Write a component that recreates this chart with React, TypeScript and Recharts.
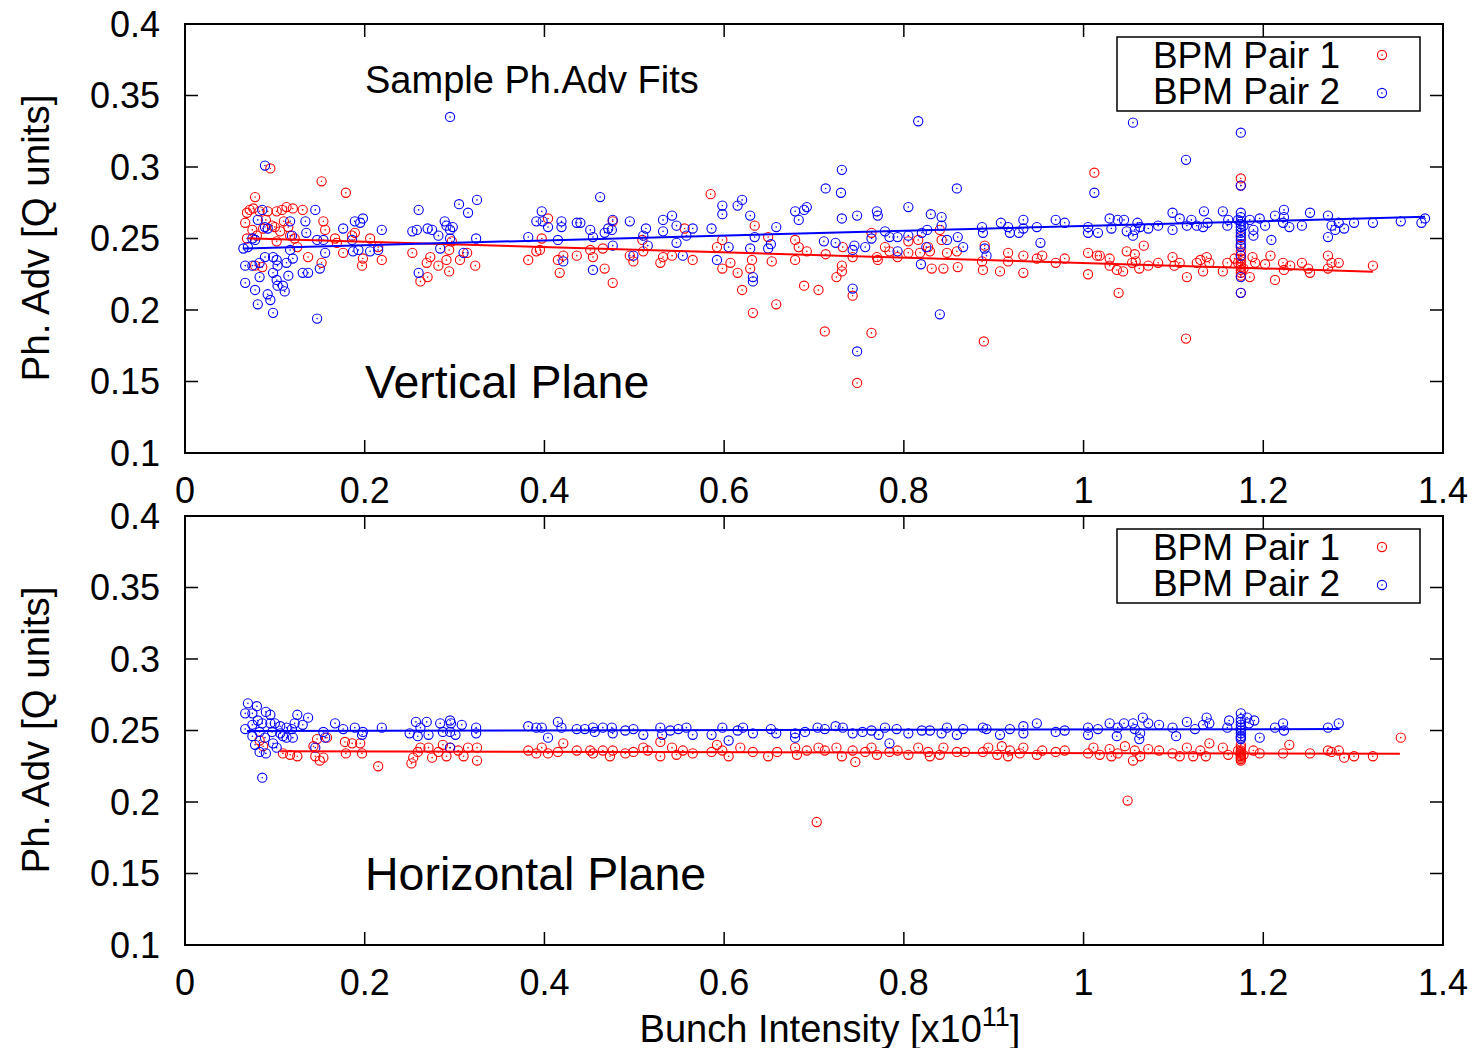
import React from "react";
import { ScatterChart, Scatter, XAxis, YAxis, ReferenceLine, ReferenceArea } from "recharts";

const FONT = '"Liberation Sans", Arial, Helvetica, sans-serif';
const RED = "#ff0000";
const BLUE = "#0000ff";
const W = 1466;

const xTicks = [0, 0.2, 0.4, 0.6, 0.8, 1, 1.2, 1.4];
const yTicks = [0.1, 0.15, 0.2, 0.25, 0.3, 0.35, 0.4];

// Vertical plane, BPM Pair 1 (red)
const v1: [number, number][] = [
	[0.095, 0.299], [0.152, 0.29], [0.179, 0.282], [0.078, 0.279], [0.585, 0.281], [1.012, 0.296], [1.175, 0.292], [1.175, 0.287],
	[0.712, 0.185], [0.764, 0.184], [0.748, 0.149], [0.889, 0.178], [1.114, 0.18], [0.632, 0.198], [0.658, 0.204], [0.62, 0.214],
	[0.705, 0.214], [0.689, 0.217], [1.039, 0.212], [0.476, 0.219], [0.725, 0.223], [0.731, 0.227], [0.731, 0.231], [0.743, 0.21],
	[0.067, 0.261], [0.069, 0.268], [0.072, 0.27], [0.076, 0.271], [0.083, 0.269], [0.092, 0.269], [0.102, 0.269], [0.108, 0.27],
	[0.113, 0.272], [0.12, 0.271], [0.131, 0.27], [0.075, 0.256], [0.087, 0.257], [0.097, 0.259], [0.106, 0.255], [0.115, 0.258],
	[0.117, 0.252], [0.069, 0.25], [0.08, 0.252], [0.102, 0.248], [0.122, 0.25], [0.125, 0.244], [0.086, 0.23], [0.078, 0.231],
	[0.137, 0.237], [0.152, 0.233], [0.156, 0.256], [0.154, 0.262], [0.167, 0.25], [0.169, 0.247], [0.176, 0.24], [0.186, 0.252],
	[0.189, 0.254], [0.197, 0.231], [0.198, 0.236], [0.206, 0.25], [0.215, 0.244], [0.219, 0.235], [0.253, 0.24], [0.262, 0.22],
	[0.27, 0.223], [0.269, 0.233], [0.273, 0.237], [0.282, 0.231], [0.291, 0.235], [0.294, 0.227], [0.294, 0.242], [0.297, 0.248],
	[0.306, 0.235], [0.314, 0.24], [0.323, 0.231], [0.382, 0.235], [0.391, 0.241], [0.397, 0.25], [0.404, 0.264], [0.395, 0.242],
	[0.415, 0.235], [0.417, 0.226], [0.421, 0.238], [0.436, 0.238], [0.451, 0.242], [0.454, 0.237], [0.09, 0.263], [0.11, 0.262],
	[0.1, 0.258], [0.467, 0.229], [0.465, 0.243], [0.476, 0.262], [0.495, 0.238], [0.499, 0.234], [0.509, 0.249], [0.51, 0.241],
	[0.529, 0.233], [0.532, 0.237], [0.542, 0.238], [0.556, 0.257], [0.565, 0.235], [0.592, 0.244], [0.598, 0.249], [0.598, 0.229],
	[0.607, 0.233], [0.615, 0.226], [0.629, 0.229], [0.631, 0.235], [0.634, 0.259], [0.649, 0.251], [0.653, 0.234], [0.679, 0.249],
	[0.679, 0.235], [0.683, 0.244], [0.692, 0.241], [0.713, 0.239], [0.732, 0.244], [0.743, 0.237], [0.764, 0.254], [0.77, 0.237],
	[0.771, 0.235], [0.779, 0.244], [0.784, 0.241], [0.793, 0.237], [0.805, 0.248], [0.805, 0.24], [0.816, 0.249], [0.818, 0.24],
	[0.827, 0.244], [0.829, 0.241], [0.831, 0.229], [0.84, 0.256], [0.842, 0.249], [0.844, 0.229], [0.848, 0.24], [0.859, 0.241],
	[0.86, 0.23], [0.887, 0.234], [0.888, 0.228], [0.89, 0.245], [0.907, 0.227], [0.916, 0.24], [0.916, 0.234], [0.933, 0.238],
	[0.933, 0.226], [0.948, 0.236], [0.954, 0.238], [0.969, 0.233], [0.979, 0.236], [1.005, 0.24], [1.005, 0.225], [1.015, 0.238],
	[1.018, 0.238], [1.029, 0.236], [1.029, 0.231], [1.037, 0.228], [1.044, 0.227], [1.048, 0.241], [1.057, 0.239], [1.058, 0.234],
	[1.054, 0.233], [1.062, 0.229], [1.067, 0.245], [1.072, 0.231], [1.083, 0.233], [1.099, 0.237], [1.101, 0.231], [1.107, 0.233],
	[1.115, 0.223], [1.126, 0.233], [1.13, 0.235], [1.133, 0.227], [1.137, 0.237], [1.14, 0.233], [1.155, 0.227], [1.16, 0.233],
	[1.168, 0.236], [1.175, 0.251], [1.175, 0.245], [1.175, 0.241], [1.175, 0.238], [1.175, 0.236], [1.175, 0.234], [1.175, 0.232],
	[1.175, 0.23], [1.175, 0.228], [1.175, 0.226], [1.175, 0.224], [1.175, 0.212], [1.172, 0.233], [1.178, 0.229], [1.185, 0.223],
	[1.188, 0.237], [1.191, 0.233], [1.202, 0.232], [1.208, 0.238], [1.213, 0.221], [1.222, 0.233], [1.223, 0.228], [1.23, 0.231],
	[1.243, 0.233], [1.25, 0.229], [1.252, 0.226], [1.272, 0.238], [1.272, 0.229], [1.276, 0.233], [1.284, 0.233], [1.322, 0.231]
];

// Vertical plane, BPM Pair 2 (blue)
const v2: [number, number][] = [
	[0.295, 0.335], [0.816, 0.332], [1.055, 0.331], [1.175, 0.324], [1.114, 0.305], [0.089, 0.301], [0.731, 0.298], [0.713, 0.285],
	[0.73, 0.282], [0.859, 0.285], [1.012, 0.282], [0.462, 0.279], [0.748, 0.171], [0.743, 0.215], [0.84, 0.197],
	[0.086, 0.27], [0.081, 0.263], [0.089, 0.258], [0.092, 0.257], [0.075, 0.25], [0.078, 0.249], [0.065, 0.243], [0.07, 0.244],
	[0.067, 0.231], [0.075, 0.231], [0.083, 0.233], [0.089, 0.237], [0.098, 0.237], [0.102, 0.235], [0.103, 0.231], [0.113, 0.233],
	[0.117, 0.242], [0.119, 0.252], [0.117, 0.262], [0.12, 0.236], [0.134, 0.262], [0.135, 0.254], [0.145, 0.27], [0.147, 0.249],
	[0.154, 0.249], [0.156, 0.24], [0.131, 0.226], [0.137, 0.226], [0.15, 0.229], [0.098, 0.226], [0.115, 0.224], [0.067, 0.219],
	[0.078, 0.214], [0.083, 0.223], [0.102, 0.221], [0.103, 0.217], [0.109, 0.217], [0.111, 0.213], [0.092, 0.211], [0.095, 0.207],
	[0.081, 0.204], [0.098, 0.198], [0.147, 0.194], [0.176, 0.257], [0.186, 0.249], [0.189, 0.262], [0.195, 0.261], [0.198, 0.264],
	[0.193, 0.242], [0.187, 0.241], [0.206, 0.241], [0.219, 0.256], [0.215, 0.242], [0.253, 0.255], [0.258, 0.256], [0.26, 0.27],
	[0.26, 0.226], [0.27, 0.257], [0.275, 0.256], [0.282, 0.252], [0.284, 0.243], [0.289, 0.262], [0.291, 0.259], [0.295, 0.256],
	[0.298, 0.258], [0.295, 0.25], [0.305, 0.274], [0.315, 0.268], [0.325, 0.277], [0.31, 0.24], [0.324, 0.25], [0.382, 0.251],
	[0.391, 0.262], [0.397, 0.269], [0.398, 0.262], [0.404, 0.258], [0.415, 0.249], [0.419, 0.262], [0.419, 0.258], [0.421, 0.234],
	[0.436, 0.261], [0.451, 0.256], [0.454, 0.228], [0.44, 0.261], [0.454, 0.251], [0.467, 0.254], [0.471, 0.257], [0.475, 0.256],
	[0.476, 0.263], [0.476, 0.245], [0.495, 0.262], [0.51, 0.252], [0.513, 0.257], [0.499, 0.238], [0.515, 0.245], [0.532, 0.263],
	[0.532, 0.255], [0.542, 0.266], [0.547, 0.259], [0.547, 0.247], [0.558, 0.252], [0.565, 0.257], [0.554, 0.238], [0.586, 0.257],
	[0.592, 0.235], [0.598, 0.273], [0.598, 0.267], [0.605, 0.244], [0.615, 0.273], [0.62, 0.277], [0.629, 0.266], [0.629, 0.243],
	[0.634, 0.251], [0.632, 0.223], [0.632, 0.22], [0.649, 0.243], [0.652, 0.246], [0.658, 0.258], [0.679, 0.269], [0.683, 0.263],
	[0.689, 0.27], [0.692, 0.272], [0.711, 0.248], [0.724, 0.247], [0.731, 0.264], [0.743, 0.242], [0.745, 0.245], [0.748, 0.266],
	[0.757, 0.244], [0.764, 0.25], [0.77, 0.269], [0.771, 0.266], [0.779, 0.255], [0.784, 0.251], [0.793, 0.251], [0.793, 0.241],
	[0.805, 0.272], [0.805, 0.252], [0.819, 0.232], [0.82, 0.254], [0.825, 0.244], [0.826, 0.256], [0.83, 0.267], [0.842, 0.265],
	[0.842, 0.259], [0.848, 0.249], [0.86, 0.251], [0.866, 0.244], [0.887, 0.258], [0.888, 0.254], [0.89, 0.243], [0.892, 0.238],
	[0.908, 0.261], [0.916, 0.258], [0.918, 0.254], [0.928, 0.254], [0.933, 0.263], [0.933, 0.257], [0.948, 0.258], [0.952, 0.247],
	[0.969, 0.263], [0.979, 0.261], [1.005, 0.258], [1.005, 0.254], [1.016, 0.254], [1.029, 0.264], [1.031, 0.257], [1.038, 0.263],
	[1.045, 0.263], [1.048, 0.255], [1.055, 0.252], [1.057, 0.256], [1.06, 0.261], [1.063, 0.258], [1.072, 0.257], [1.083, 0.259],
	[1.099, 0.268], [1.099, 0.256], [1.107, 0.264], [1.115, 0.259], [1.12, 0.263], [1.126, 0.259], [1.134, 0.269], [1.133, 0.258],
	[1.138, 0.261], [1.155, 0.269], [1.161, 0.263], [1.16, 0.259], [1.175, 0.287], [1.175, 0.268], [1.175, 0.265], [1.175, 0.262],
	[1.175, 0.26], [1.175, 0.258], [1.175, 0.256], [1.175, 0.254], [1.175, 0.252], [1.175, 0.249], [1.175, 0.246], [1.175, 0.244],
	[1.175, 0.238], [1.175, 0.223], [1.175, 0.212], [1.172, 0.263], [1.178, 0.259], [1.185, 0.263], [1.189, 0.256], [1.189, 0.252],
	[1.196, 0.264], [1.202, 0.259], [1.209, 0.249], [1.213, 0.266], [1.223, 0.27], [1.223, 0.265], [1.222, 0.261], [1.229, 0.258],
	[1.243, 0.259], [1.252, 0.268], [1.272, 0.266], [1.272, 0.251], [1.276, 0.259], [1.28, 0.256], [1.284, 0.261], [1.29, 0.257],
	[1.301, 0.261], [1.322, 0.261], [1.353, 0.262], [1.376, 0.261], [1.38, 0.264]
];

// Horizontal plane, BPM Pair 1 (red)
const h1: [number, number][] = [
	[0.083, 0.243], [0.087, 0.239], [0.109, 0.234], [0.117, 0.233], [0.125, 0.232], [0.143, 0.239], [0.145, 0.232], [0.147, 0.244],
	[0.15, 0.229], [0.154, 0.231], [0.158, 0.245], [0.178, 0.242], [0.179, 0.234], [0.186, 0.241], [0.195, 0.241], [0.197, 0.234],
	[0.215, 0.225], [0.252, 0.227], [0.254, 0.231], [0.259, 0.235], [0.262, 0.238], [0.271, 0.238], [0.275, 0.231], [0.282, 0.235],
	[0.287, 0.24], [0.295, 0.238], [0.291, 0.232], [0.304, 0.236], [0.31, 0.232], [0.315, 0.238], [0.325, 0.238], [0.325, 0.229],
	[0.382, 0.236], [0.391, 0.234], [0.397, 0.238], [0.404, 0.234], [0.415, 0.235], [0.421, 0.241], [0.436, 0.236], [0.451, 0.236],
	[0.454, 0.234], [0.465, 0.236], [0.473, 0.232], [0.476, 0.236], [0.49, 0.234], [0.499, 0.235], [0.51, 0.238], [0.515, 0.236],
	[0.529, 0.242], [0.529, 0.232], [0.542, 0.238], [0.547, 0.233], [0.554, 0.236], [0.565, 0.234], [0.586, 0.235], [0.592, 0.24],
	[0.598, 0.236], [0.605, 0.232], [0.618, 0.238], [0.632, 0.235], [0.649, 0.232], [0.659, 0.235], [0.679, 0.238], [0.681, 0.233],
	[0.692, 0.236], [0.703, 0.186], [0.705, 0.238], [0.712, 0.236], [0.725, 0.238], [0.731, 0.232], [0.743, 0.236], [0.746, 0.228],
	[0.757, 0.235], [0.764, 0.238], [0.77, 0.233], [0.784, 0.235], [0.793, 0.236], [0.805, 0.233], [0.816, 0.238], [0.827, 0.235],
	[0.829, 0.232], [0.84, 0.233], [0.844, 0.238], [0.859, 0.235], [0.868, 0.235], [0.888, 0.235], [0.894, 0.238], [0.904, 0.233],
	[0.909, 0.239], [0.918, 0.236], [0.916, 0.232], [0.929, 0.234], [0.933, 0.238], [0.948, 0.233], [0.954, 0.236], [0.969, 0.235],
	[0.979, 0.236], [1.005, 0.234], [1.011, 0.238], [1.018, 0.233], [1.029, 0.237], [1.031, 0.232], [1.038, 0.234], [1.046, 0.239],
	[1.049, 0.201], [1.055, 0.229], [1.057, 0.236], [1.063, 0.232], [1.072, 0.237], [1.084, 0.236], [1.099, 0.234], [1.107, 0.232],
	[1.115, 0.238], [1.122, 0.232], [1.13, 0.236], [1.136, 0.232], [1.14, 0.241], [1.155, 0.238], [1.161, 0.233], [1.175, 0.24],
	[1.175, 0.238], [1.175, 0.236], [1.175, 0.235], [1.175, 0.234], [1.175, 0.233], [1.175, 0.232], [1.175, 0.231], [1.175, 0.23],
	[1.175, 0.229], [1.172, 0.236], [1.178, 0.233], [1.189, 0.236], [1.196, 0.234], [1.222, 0.234], [1.229, 0.24], [1.252, 0.234],
	[1.272, 0.236], [1.276, 0.235], [1.284, 0.236], [1.29, 0.231], [1.301, 0.232], [1.322, 0.232], [1.353, 0.245]
];

// Horizontal plane, BPM Pair 2 (blue)
const h2: [number, number][] = [
	[0.07, 0.269], [0.08, 0.267], [0.067, 0.262], [0.075, 0.262], [0.09, 0.263], [0.095, 0.261], [0.067, 0.251], [0.075, 0.254],
	[0.081, 0.257], [0.086, 0.255], [0.095, 0.255], [0.1, 0.255], [0.106, 0.253], [0.113, 0.252], [0.119, 0.251], [0.125, 0.261],
	[0.122, 0.255], [0.131, 0.254], [0.137, 0.259], [0.075, 0.246], [0.078, 0.24], [0.083, 0.235], [0.09, 0.234], [0.089, 0.245],
	[0.098, 0.241], [0.102, 0.238], [0.109, 0.246], [0.113, 0.245], [0.12, 0.245], [0.086, 0.217], [0.083, 0.249], [0.097, 0.249],
	[0.106, 0.248], [0.145, 0.238], [0.154, 0.249], [0.156, 0.245], [0.167, 0.255], [0.176, 0.251], [0.189, 0.252], [0.198, 0.249],
	[0.197, 0.247], [0.219, 0.252], [0.25, 0.248], [0.257, 0.256], [0.262, 0.252], [0.269, 0.256], [0.259, 0.246], [0.271, 0.247],
	[0.284, 0.255], [0.295, 0.257], [0.296, 0.255], [0.287, 0.249], [0.295, 0.249], [0.301, 0.247], [0.308, 0.254], [0.324, 0.252],
	[0.324, 0.248], [0.295, 0.238], [0.382, 0.253], [0.391, 0.252], [0.397, 0.252], [0.404, 0.245], [0.415, 0.256], [0.419, 0.252],
	[0.436, 0.251], [0.454, 0.252], [0.445, 0.251], [0.456, 0.249], [0.465, 0.252], [0.475, 0.252], [0.476, 0.248], [0.49, 0.25],
	[0.499, 0.251], [0.51, 0.247], [0.529, 0.252], [0.531, 0.247], [0.54, 0.25], [0.549, 0.251], [0.558, 0.252], [0.565, 0.247],
	[0.586, 0.247], [0.598, 0.252], [0.605, 0.243], [0.615, 0.25], [0.621, 0.252], [0.632, 0.248], [0.652, 0.251], [0.658, 0.248],
	[0.679, 0.248], [0.679, 0.245], [0.69, 0.249], [0.704, 0.252], [0.712, 0.251], [0.724, 0.253], [0.732, 0.252], [0.743, 0.248],
	[0.754, 0.249], [0.764, 0.25], [0.772, 0.247], [0.779, 0.252], [0.784, 0.241], [0.792, 0.251], [0.805, 0.248], [0.82, 0.25],
	[0.829, 0.25], [0.842, 0.248], [0.848, 0.252], [0.859, 0.247], [0.866, 0.251], [0.888, 0.252], [0.892, 0.251], [0.907, 0.247],
	[0.918, 0.251], [0.933, 0.253], [0.933, 0.248], [0.948, 0.255], [0.969, 0.249], [0.979, 0.25], [1.005, 0.252], [1.005, 0.247],
	[1.016, 0.251], [1.029, 0.255], [1.038, 0.252], [1.037, 0.246], [1.045, 0.255], [1.055, 0.255], [1.057, 0.251], [1.062, 0.244],
	[1.066, 0.259], [1.072, 0.255], [1.063, 0.248], [1.084, 0.254], [1.099, 0.252], [1.103, 0.246], [1.115, 0.256], [1.124, 0.251],
	[1.133, 0.254], [1.137, 0.259], [1.14, 0.255], [1.16, 0.252], [1.162, 0.257], [1.175, 0.262], [1.175, 0.258], [1.175, 0.256],
	[1.175, 0.254], [1.175, 0.252], [1.175, 0.25], [1.175, 0.248], [1.175, 0.246], [1.175, 0.245], [1.175, 0.244], [1.182, 0.259],
	[1.184, 0.255], [1.19, 0.257], [1.196, 0.245], [1.213, 0.252], [1.222, 0.255], [1.223, 0.25], [1.272, 0.252], [1.284, 0.255]
];

// linear fits (end points)
const v1Fit: [number, number][] = [[0.07, 0.2502], [1.322, 0.2268]];
const v2Fit: [number, number][] = [[0.065, 0.243], [1.38, 0.2652]];
const h1Fit: [number, number][] = [[0.106, 0.2355], [1.352, 0.2337]];
const h2Fit: [number, number][] = [[0.069, 0.2497], [1.285, 0.251]];

const toPts = (arr: [number, number][]) => arr.map(([x, y]) => ({ x, y }));

const ring = (color: string) => (props: any) => {
	const { cx, cy } = props;
	if (cx == null || cy == null) return <g />;
	return (
		<g>
			<circle cx={cx} cy={cy} r={4.6} fill="none" stroke={color} strokeWidth={1.1} />
			<circle cx={cx} cy={cy} r={0.8} fill={color} />
		</g>
	);
};

const noDot = () => <g />;

const TICK_LEN_Y = 0.0091; // inward tick length for x ticks, in y units
const TICK_LEN_X = 0.0145; // inward tick length for y ticks, in x units

const Legend2 = () => (
	<g fontFamily={FONT} fontSize={37} fill="#000">
		<rect x={1109} y={29} width={303} height={74} fill="#fff" stroke="#000" strokeWidth={1.5} />
		<text x={1332} y={60} textAnchor="end">BPM Pair 1</text>
		<text x={1332} y={96} textAnchor="end">BPM Pair 2</text>
		<circle cx={1374} cy={47} r={4.6} fill="none" stroke={RED} strokeWidth={1.1} />
		<circle cx={1374} cy={47} r={0.8} fill={RED} />
		<circle cx={1374} cy={85} r={4.6} fill="none" stroke={BLUE} strokeWidth={1.1} />
		<circle cx={1374} cy={85} r={0.8} fill={BLUE} />
	</g>
);

type PanelProps = {
	red: [number, number][];
	blue: [number, number][];
	redFit: [number, number][];
	blueFit: [number, number][];
	height: number;
	xAxisHeight: number;
	children?: React.ReactNode;
};

const Panel = ({ red, blue, redFit, blueFit, height, xAxisHeight, children }: PanelProps) => (
	<div style={{ position: "relative", width: W, height }}>
		<ScatterChart width={W} height={height} margin={{ top: 16, right: 31, bottom: 0, left: 0 }}>
			<XAxis
				type="number"
				dataKey="x"
				domain={[0, 1.4]}
				ticks={xTicks}
				interval={0}
				tickFormatter={(v: number) => String(v)}
				axisLine={false}
				tickLine={false}
				tickSize={0}
				tickMargin={24}
				height={xAxisHeight}
				tick={{ fontSize: 36, fill: "#000", fontFamily: FONT }}
			/>
			<YAxis
				type="number"
				dataKey="y"
				domain={[0.1, 0.4]}
				ticks={yTicks}
				interval={0}
				tickFormatter={(v: number) => String(v)}
				axisLine={false}
				tickLine={false}
				tickSize={0}
				tickMargin={25}
				width={177}
				tick={{ fontSize: 36, fill: "#000", fontFamily: FONT }}
			/>
			<Scatter data={toPts(red)} shape={ring(RED)} isAnimationActive={false} />
			<Scatter data={toPts(blue)} shape={ring(BLUE)} isAnimationActive={false} />
			<Scatter data={toPts(redFit)} shape={noDot} line={{ stroke: RED, strokeWidth: 2 }} isAnimationActive={false} />
			<Scatter data={toPts(blueFit)} shape={noDot} line={{ stroke: BLUE, strokeWidth: 2 }} isAnimationActive={false} />
			{xTicks.map((t) => (
				<ReferenceLine key={"xb" + t} segment={[{ x: t, y: 0.1 }, { x: t, y: 0.1 + TICK_LEN_Y }]} stroke="#000" strokeWidth={1.5} />
			))}
			{xTicks.map((t) => (
				<ReferenceLine key={"xt" + t} segment={[{ x: t, y: 0.4 }, { x: t, y: 0.4 - TICK_LEN_Y }]} stroke="#000" strokeWidth={1.5} />
			))}
			{yTicks.map((t) => (
				<ReferenceLine key={"yl" + t} segment={[{ x: 0, y: t }, { x: TICK_LEN_X, y: t }]} stroke="#000" strokeWidth={1.5} />
			))}
			{yTicks.map((t) => (
				<ReferenceLine key={"yr" + t} segment={[{ x: 1.4, y: t }, { x: 1.4 - TICK_LEN_X, y: t }]} stroke="#000" strokeWidth={1.5} />
			))}
			<ReferenceArea x1={0} x2={1.4} y1={0.1} y2={0.4} fill="none" stroke="#000" strokeWidth={2} />
		</ScatterChart>
		<svg
			width={W}
			height={height}
			style={{ position: "absolute", left: 0, top: 0, pointerEvents: "none", overflow: "visible" }}
		>
			<text
				transform="translate(27, 230) rotate(-90)"
				textAnchor="middle"
				dominantBaseline="central"
				fontFamily={FONT}
				fontSize={38.5}
				fill="#000"
			>
				Ph. Adv [Q units]
			</text>
			<Legend2 />
			{children}
		</svg>
	</div>
);

export default function App() {
	return (
		<div style={{ width: W }}>
			<style>{".recharts-surface{overflow:visible}"}</style>
			<Panel red={v1} blue={v2} redFit={v1Fit} blueFit={v2Fit} height={492} xAxisHeight={47}>
				<text x={357} y={85} fontFamily={FONT} fontSize={38} fill="#000">Sample Ph.Adv Fits</text>
				<text x={357} y={390} fontFamily={FONT} fontSize={46.5} fill="#000">Vertical Plane</text>
			</Panel>
			<Panel red={h1} blue={h2} redFit={h1Fit} blueFit={h2Fit} height={548} xAxisHeight={103}>
				<text x={357} y={390} fontFamily={FONT} fontSize={46.5} fill="#000">Horizontal Plane</text>
				<text x={822} y={542} textAnchor="middle" fontFamily={FONT} fontSize={38} fill="#000">
					Bunch Intensity [x10
					<tspan dy={-16} fontSize={27}>11</tspan>
					<tspan dy={16} fontSize={38}>]</tspan>
				</text>
			</Panel>
		</div>
	);
}
